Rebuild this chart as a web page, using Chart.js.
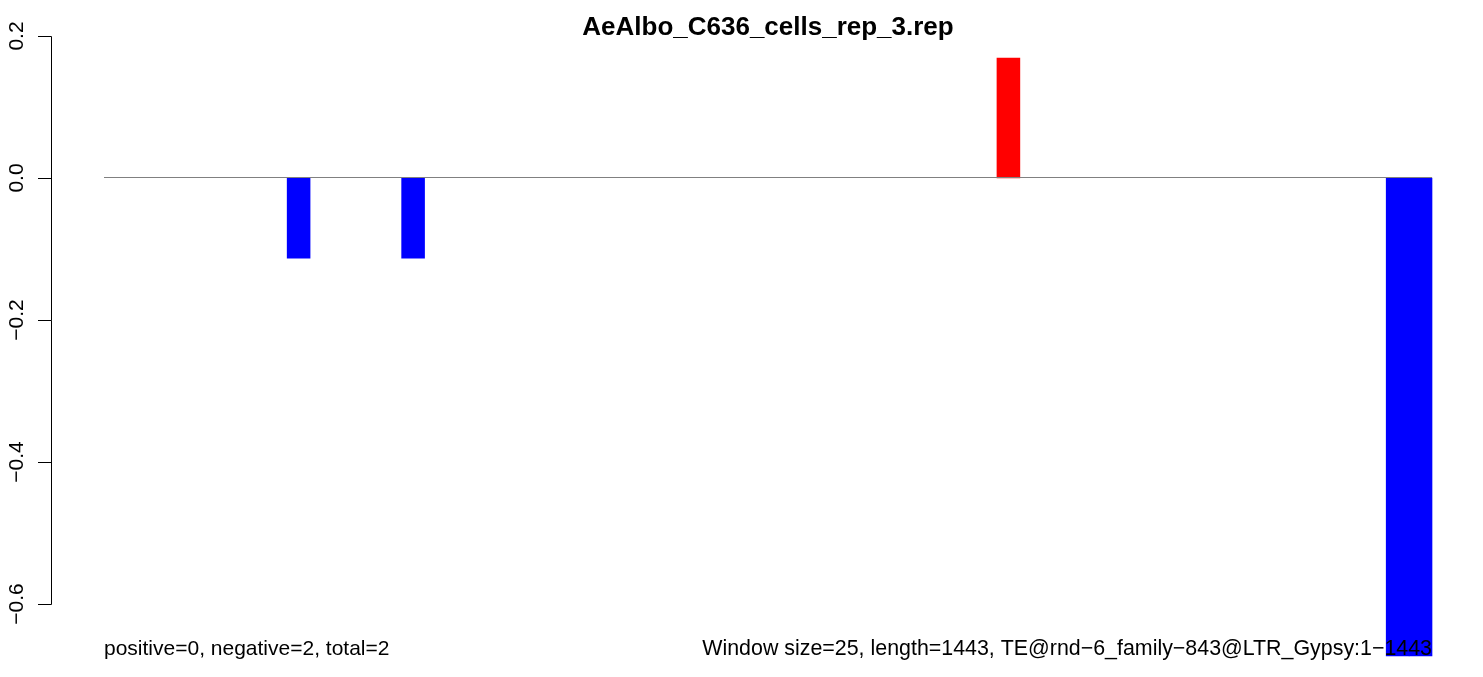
<!DOCTYPE html>
<html lang="en">
<head>
<meta charset="UTF-8">
<title>AeAlbo_C636_cells_rep_3.rep</title>
<script src="https://cdn.jsdelivr.net/npm/chart.js@4.4.0/dist/chart.umd.min.js"></script>
<style>
    body { margin: 0; background: #ffffff; }
    canvas { display: block; }
</style>
</head>
<body>
<canvas id="chart" width="1483" height="677"></canvas>
<script>
// 58 windows of 25 nt along the TE (start position of each window)
const windowStarts = [
    1, 26, 51, 76, 101, 126, 151, 176, 201, 226,
    251, 276, 301, 326, 351, 376, 401, 426, 451, 476,
    501, 526, 551, 576, 601, 626, 651, 676, 701, 726,
    751, 776, 801, 826, 851, 876, 901, 926, 951, 976,
    1001, 1026, 1051, 1076, 1101, 1126, 1151, 1176, 1201, 1226,
    1251, 1276, 1301, 1326, 1351, 1376, 1401, 1426
];

// value per window
const windowValues = [
    0, 0, 0, 0, 0, 0, 0, 0, -0.113, 0,
    0, 0, 0, -0.113, 0, 0, 0, 0, 0, 0,
    0, 0, 0, 0, 0, 0, 0, 0, 0, 0,
    0, 0, 0, 0, 0, 0, 0, 0, 0, 0.169,
    0, 0, 0, 0, 0, 0, 0, 0, 0, 0,
    0, 0, 0, 0, 0, 0, -0.673, -0.673
];

const yTicks = [-0.6, -0.4, -0.2, 0.0, 0.2];
const yTickLabels = ['\u22120.6', '\u22120.4', '\u22120.2', '0.0', '0.2'];

const titleText = 'AeAlbo_C636_cells_rep_3.rep';
const leftNote = 'positive=0, negative=2, total=2';
const rightNote = 'Window size=25, length=1443, TE@rnd\u22126_family\u2212843@LTR_Gypsy:1\u22121443';

const FONT = '"Liberation Sans", Arial, Helvetica, sans-serif';

function barColour(v) {
    if (v > 0) return '#ff0000';
    if (v < 0) return '#0000ff';
    return 'rgba(0,0,0,0)';
}

// R style axis, zero line, title and margin notes
const rDecorations = {
    id: 'rDecorations',
    afterDatasetsDraw(chart) {
        const ctx = chart.ctx;
        const area = chart.chartArea;
        const y = chart.scales.y;
        ctx.save();

        // line at zero
        const y0 = Math.round(y.getPixelForValue(0)) - 0.5;
        ctx.strokeStyle = '#808080';
        ctx.lineWidth = 1;
        ctx.beginPath();
        ctx.moveTo(area.left, y0);
        ctx.lineTo(area.right, y0);
        ctx.stroke();

        // y axis
        const ax = 51.5;
        const top = Math.round(y.getPixelForValue(yTicks[yTicks.length - 1])) + 0.5;
        const bottom = Math.round(y.getPixelForValue(yTicks[0])) + 0.5;
        ctx.strokeStyle = '#000000';
        ctx.beginPath();
        ctx.moveTo(ax, top);
        ctx.lineTo(ax, bottom);
        yTicks.forEach(function(v) {
            const py = Math.round(y.getPixelForValue(v)) + 0.5;
            ctx.moveTo(ax, py);
            ctx.lineTo(38, py);
        });
        ctx.stroke();

        ctx.fillStyle = '#000000';
        ctx.font = '21px ' + FONT;
        ctx.textAlign = 'center';
        ctx.textBaseline = 'alphabetic';
        yTicks.forEach(function(v, i) {
            const py = y.getPixelForValue(v);
            ctx.save();
            ctx.translate(23, py);
            ctx.rotate(-Math.PI / 2);
            ctx.fillText(yTickLabels[i], 0, 0);
            ctx.restore();
        });

        // title
        ctx.font = 'bold 26px ' + FONT;
        ctx.textAlign = 'center';
        ctx.fillText(titleText, (area.left + area.right) / 2, 35, 380);

        // notes under the plot
        ctx.font = '21px ' + FONT;
        ctx.textAlign = 'left';
        ctx.fillText(leftNote, area.left, 655);
        ctx.font = '21.4px ' + FONT;
        ctx.textAlign = 'right';
        ctx.fillText(rightNote, area.right, 655);

        ctx.restore();
    }
};

new Chart(document.getElementById('chart'), {
    type: 'bar',
    data: {
        labels: windowStarts,
        datasets: [{
            data: windowValues,
            backgroundColor: windowValues.map(barColour),
            borderWidth: 0,
            barPercentage: 1,
            categoryPercentage: 1,
            clip: false
        }]
    },
    options: {
        responsive: false,
        animation: false,
        devicePixelRatio: 1,
        layout: {
            padding: { left: 104, right: 51, top: 36, bottom: 73 }
        },
        plugins: {
            legend: { display: false },
            title: { display: false },
            tooltip: { enabled: false }
        },
        scales: {
            x: { display: false },
            y: {
                display: false,
                min: -0.6,
                max: 0.2
            }
        }
    },
    plugins: [rDecorations]
});
</script>
</body>
</html>
